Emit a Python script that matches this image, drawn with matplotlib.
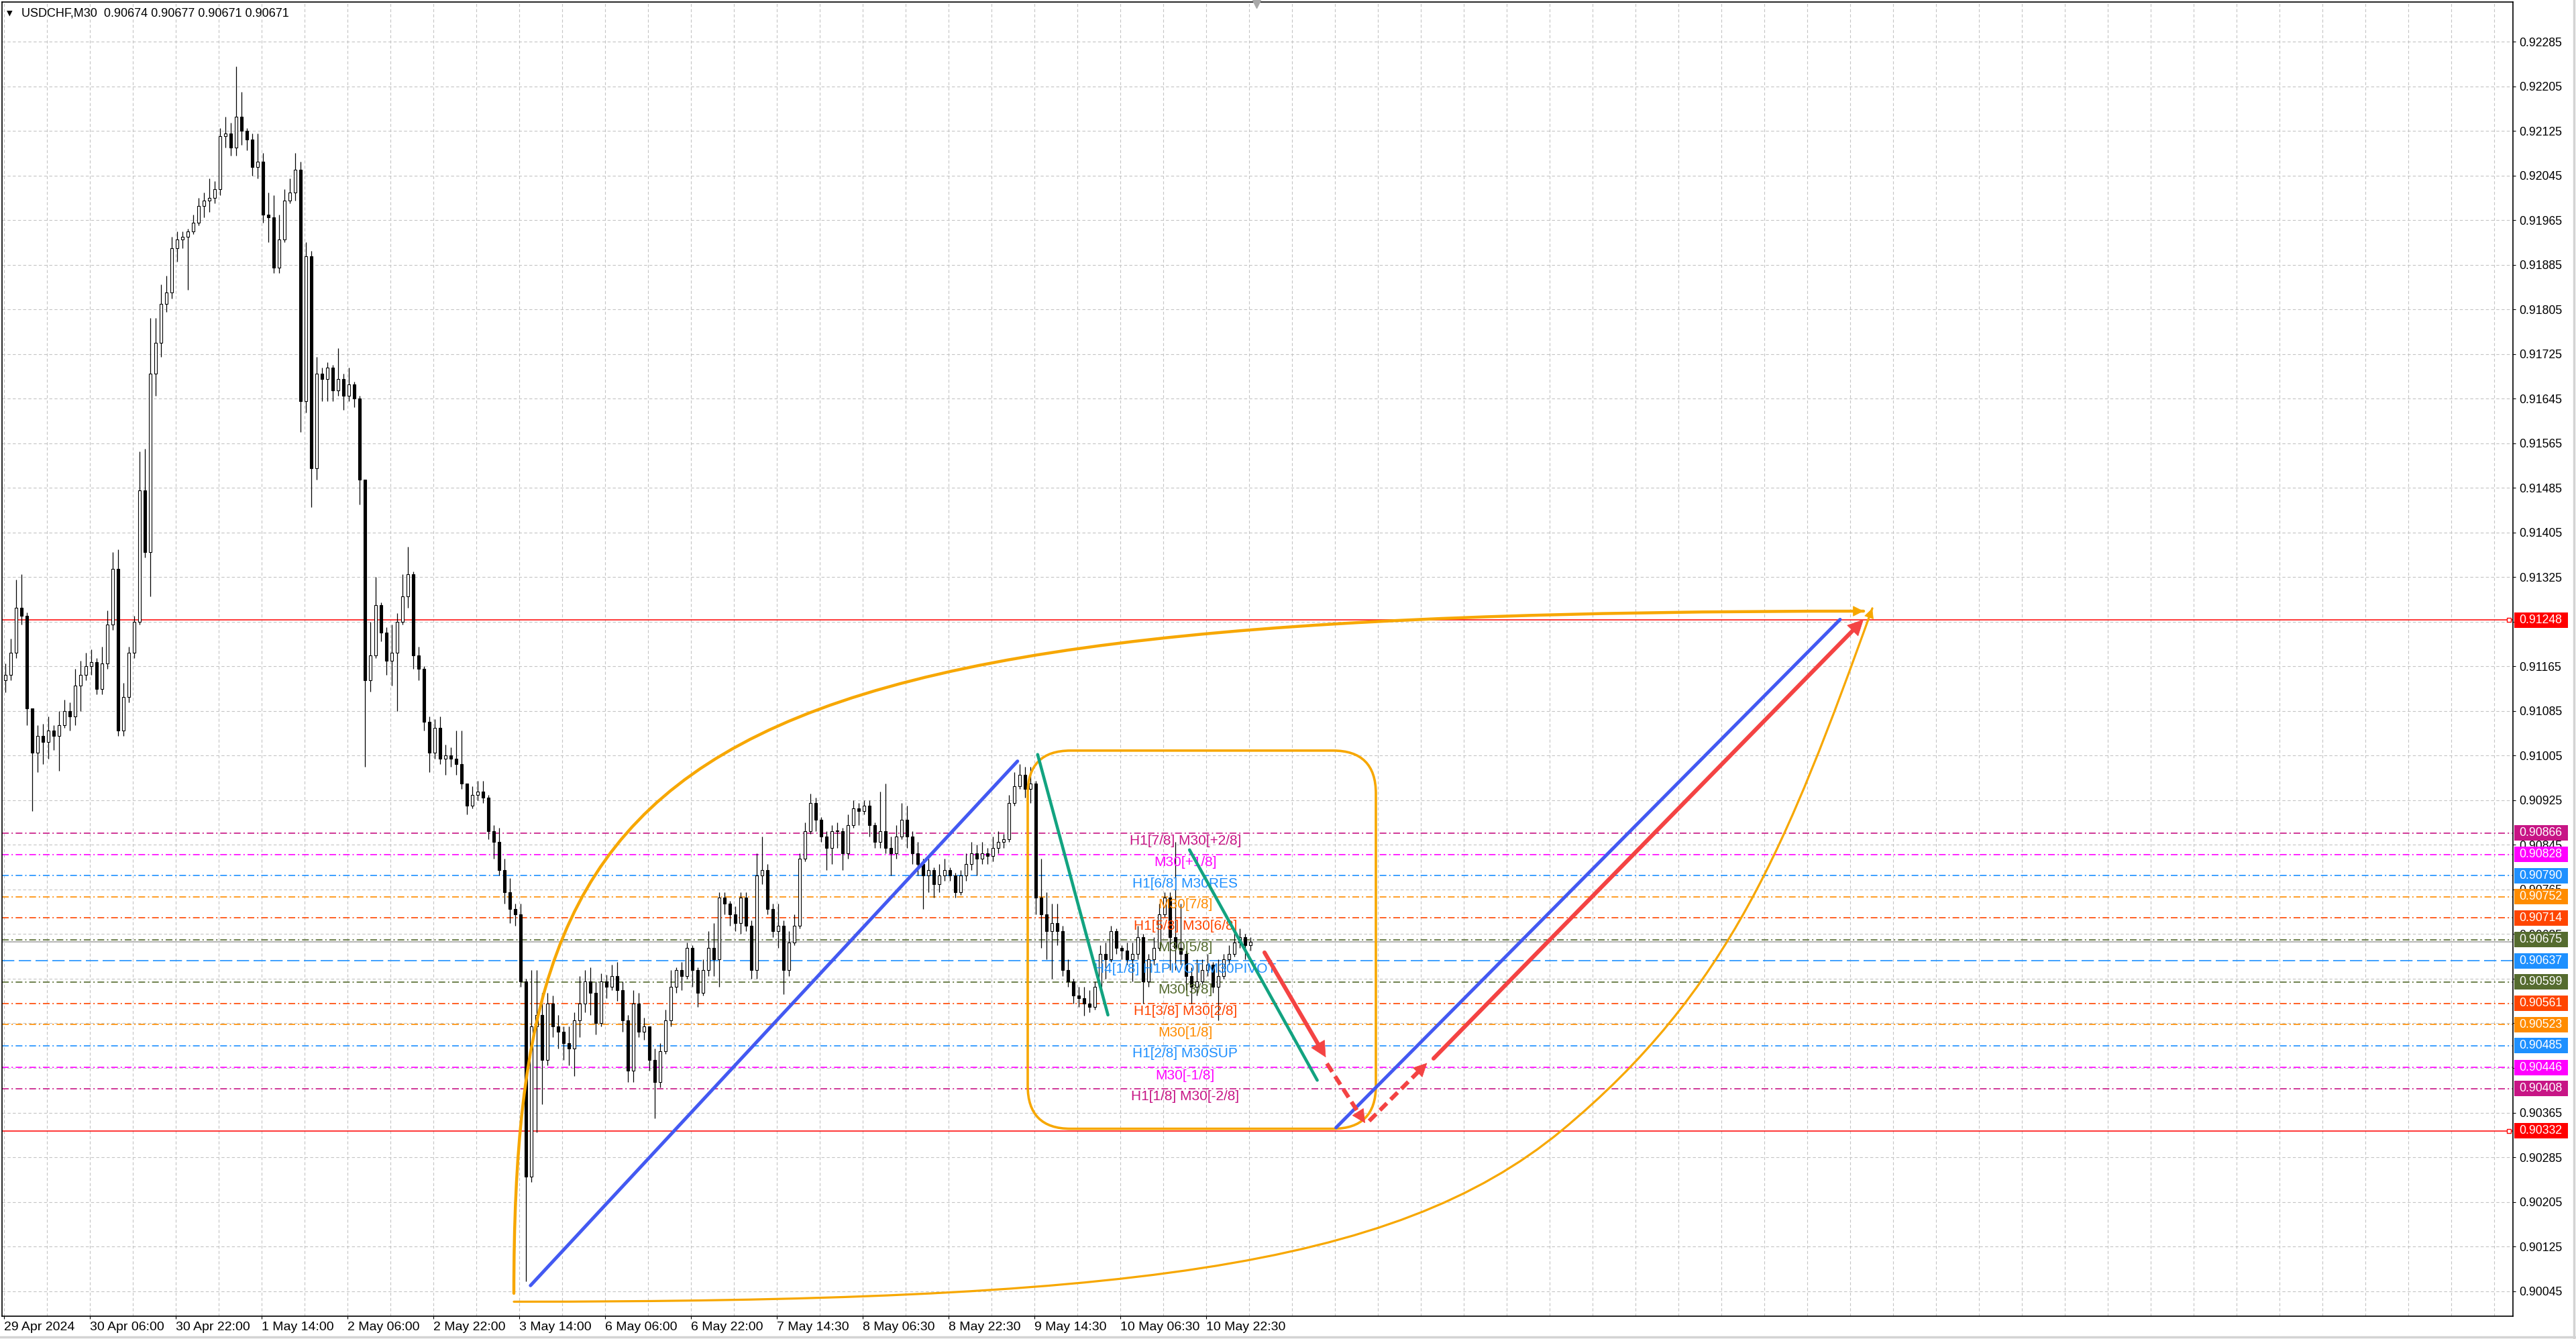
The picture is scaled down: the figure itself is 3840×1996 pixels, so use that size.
import numpy as np
import matplotlib.pyplot as plt
from matplotlib.path import Path
from matplotlib.patches import PathPatch, FancyBboxPatch, Rectangle
from matplotlib.lines import Line2D

plt.rcParams['font.family'] = ['Liberation Sans', 'DejaVu Sans']

# USDCHF M30 - one candle per two M30 slots, prices in 1e-5 above 0.90000
first_open = 1140
closes = [1150, 1190, 1270, 1255, 1090, 1010, 1040, 1030, 1050, 1040,
          1060, 1085, 1075, 1130, 1150, 1165, 1172, 1125, 1170, 1240,
          1340, 1050, 1110, 1190, 1245, 1480, 1370, 1690, 1745, 1815,
          1835, 1915, 1930, 1935, 1945, 1960, 1990, 2000, 2005, 2020,
          2115, 2120, 2095, 2150, 2125, 2110, 2060, 2070, 1975, 1970,
          1880, 1930, 2000, 2015, 2055, 1640, 1900, 1520, 1690, 1680,
          1700, 1660, 1680, 1650, 1670, 1645, 1500, 1140, 1185, 1275,
          1225, 1175, 1190, 1245, 1290, 1330, 1185, 1160, 1065, 1010,
          1055, 1000, 1005, 1000, 990, 955, 915, 935, 940, 930,
          870, 850, 800, 760, 730, 720, 600, 250, 520, 540,
          460, 560, 520, 510, 490, 480, 530, 560, 600, 580,
          525, 600, 590, 610, 585, 530, 440, 560, 510, 520,
          460, 420, 475, 530, 590, 620, 610, 660, 620, 580,
          620, 660, 640, 750, 740, 720, 705, 750, 700, 620,
          790, 800, 730, 690, 700, 620, 670, 700, 820, 870,
          920, 890, 860, 840, 870, 870, 830, 880, 910, 905,
          915, 880, 850, 870, 840, 830, 860, 890, 860, 830,
          810, 790, 800, 775, 790, 800, 790, 760, 790, 810,
          830, 820, 830, 825, 840, 850, 855, 920, 950, 970,
          945, 955, 750, 720, 690, 705, 690, 620, 600, 575,
          570, 560, 555, 590, 650, 640, 690, 660, 655, 640,
          650, 680, 600, 640, 660, 720, 750, 680, 660, 650,
          610, 590, 600, 620, 630, 590, 610, 640, 650, 670,
          680, 665, 671]
highs = [1170, 1215, 1320, 1330, 1262, 1090, 1060, 1062, 1075, 1060,
         1085, 1105, 1100, 1160, 1175, 1190, 1195, 1180, 1200, 1265,
         1370, 1375, 1135, 1200, 1255, 1550, 1555, 1790, 1790, 1850,
         1865, 1935, 1945, 1945, 1950, 1975, 2005, 2015, 2040, 2035,
         2130, 2150, 2140, 2240, 2195, 2130, 2120, 2120, 2085, 2015,
         2010, 1975, 2020, 2040, 2085, 2070, 1925, 1910, 1720, 1700,
         1710, 1705, 1735, 1690, 1700, 1675, 1650, 1500, 1245, 1325,
         1280, 1235, 1240, 1260, 1330, 1380, 1335, 1200, 1165, 1075,
         1070, 1075, 1025, 1020, 1050, 1050, 955, 950, 960, 960,
         935, 880, 875, 820, 785, 740, 740, 605, 620, 620,
         580, 580, 575, 540, 520, 520, 545, 610, 620, 625,
         600, 615, 612, 630, 635, 600, 540, 585, 580, 535,
         520, 480, 490, 550, 620, 625, 635, 670, 665, 625,
         640, 690, 705, 760, 760, 745, 735, 760, 760, 710,
         830, 860, 810, 740, 740, 710, 690, 720, 830, 885,
         937, 930, 895, 870, 880, 885, 875, 900, 925, 920,
         925, 925, 885, 940, 955, 860, 880, 920, 915, 870,
         850, 820, 820, 805, 810, 820, 805, 795, 800, 830,
         850, 845, 850, 840, 860, 870, 865, 935, 975, 990,
         985, 985, 960, 820, 760, 740, 740, 700, 640, 605,
         590, 590, 585, 600, 665, 670, 700, 695, 665, 670,
         670, 700, 685, 650, 680, 740, 760, 760, 850, 740,
         655, 625, 640, 640, 650, 635, 640, 650, 665, 690,
         695, 685, 680]
lows = [1118, 1140, 1180, 1240, 1060, 905, 975, 990, 1000, 1015,
        978, 1055, 1050, 1060, 1085, 1140, 1150, 1115, 1115, 1160,
        1230, 1040, 1040, 1100, 1180, 1240, 1360, 1290, 1650, 1720,
        1800, 1825, 1890, 1915, 1840, 1940, 1955, 1970, 1980, 1995,
        2010, 2095, 2080, 2080, 2100, 2090, 2045, 2040, 1960, 1925,
        1870, 1870, 1925, 1995, 2000, 1585, 1620, 1450, 1500, 1640,
        1640, 1640, 1650, 1625, 1640, 1630, 1455, 985, 1120, 1180,
        1210, 1150, 1130, 1085, 1240, 1270, 1160, 1140, 1050, 975,
        1000, 990, 970, 985, 970, 945, 900, 910, 925, 920,
        855, 820, 790, 740, 705, 700, 590, 62, 240, 330,
        380, 450, 500, 480, 460, 450, 430, 500, 545, 540,
        505, 520, 570, 585, 565, 510, 420, 420, 500, 495,
        440, 355, 410, 470, 520, 580, 585, 605, 590, 555,
        575, 610, 610, 590, 720, 700, 690, 685, 690, 605,
        605, 775, 720, 680, 660, 577, 610, 665, 695, 815,
        865, 870, 850, 800, 810, 840, 800, 820, 875, 880,
        900, 860, 840, 840, 830, 790, 820, 855, 840, 810,
        790, 730, 760, 750, 760, 780, 780, 750, 755, 780,
        800, 790, 810, 810, 815, 830, 840, 850, 915, 945,
        930, 920, 720, 660, 640, 605, 665, 610, 590, 560,
        555, 539, 545, 550, 585, 605, 635, 650, 640, 630,
        600, 640, 560, 590, 630, 655, 715, 620, 620, 630,
        585, 560, 575, 595, 610, 580, 530, 605, 630, 645,
        660, 640, 655]

time_labels = ["29 Apr 2024", "30 Apr 06:00", "30 Apr 22:00", "1 May 14:00",
               "2 May 06:00", "2 May 22:00", "3 May 14:00", "6 May 06:00",
               "6 May 22:00", "7 May 14:30", "8 May 06:30", "8 May 22:30",
               "9 May 14:30", "10 May 06:30", "10 May 22:30"]
price_ticks = [0.90045, 0.90125, 0.90205, 0.90285, 0.90365, 0.90445, 0.90525,
               0.90605, 0.90685, 0.90765, 0.90845, 0.90925, 0.91005, 0.91085,
               0.91165, 0.91245, 0.91325, 0.91405, 0.91485, 0.91565, 0.91645,
               0.91725, 0.91805, 0.91885, 0.91965, 0.92045, 0.92125, 0.92205,
               0.92285]

# Murrey math levels
levels = [0.90866, 0.90828, 0.90790, 0.90752, 0.90714, 0.90675, 0.90637,
          0.90599, 0.90561, 0.90523, 0.90485, 0.90446, 0.90408]
level_names = ["H1[7/8] M30[+2/8]", "M30[+1/8]", "H1[6/8] M30RES", "M30[7/8]",
               "H1[5/8] M30[6/8]", "M30[5/8]", "H4[1/8] H1PIVOT M30PIVOT",
               "M30[3/8]", "H1[3/8] M30[2/8]", "M30[1/8]", "H1[2/8] M30SUP",
               "M30[-1/8]", "H1[1/8] M30[-2/8]"]
level_colors = ["#C71585", "#FF00FF", "#1E90FF", "#FF8C00", "#FF4500", "#556B2F",
                "#1E90FF", "#556B2F", "#FF4500", "#FF8C00", "#1E90FF", "#FF00FF",
                "#C71585"]
red_lines = [0.91248, 0.90332]
bid = 0.90671

# drawing objects, anchors as (bar, price)
blue_lines = [((196.2, 0.90055), (377.7, 0.90995)),
              ((496.4, 0.90338), (684.25, 0.91249))]
green_lines = [((385.2, 0.91007), (411.4, 0.90540)),
               ((441.8, 0.90836), (489.4, 0.90423))]
red_solid = [((469.75, 0.90652), (492.6, 0.90464)),
             ((532.75, 0.90462), (693.0, 0.91249))]
red_dashed = [((493.0, 0.90453), (507.25, 0.90346)),
              ((508.75, 0.90350), (530.35, 0.90454))]
box_x = (381.5, 511.25)
box_y = (0.90336, 0.91014)
top_arc = [(190, 0.90041), (190, 0.91037), (248.5, 0.91264), (693, 0.91264)]
bottom_arc = [(190, 0.90026), (415, 0.90026), (518, 0.90084), (580.5, 0.90333),
              (643, 0.90582), (664.75, 0.90848), (696.25, 0.91269)]

ORANGE = "#F7A700"
BLUE = "#4359F2"
RED = "#F44343"
GREEN = "#12A380"

W, H = 3840, 1996
fig = plt.figure(figsize=(W / 100, H / 100), dpi=100)
ax = fig.add_axes([3 / W, 34 / H, 3743 / W, 1959 / H])
ax.set_xlim(-0.75, 935)
ax.set_ylim(0.90000, 0.92356)

# grid
for gx in np.arange(0, 935, 16):
    ax.axvline(gx, color="#c4c4c4", lw=0.8, ls=(0, (4, 3)), zorder=0)
for gy in price_ticks:
    ax.axhline(gy, color="#c4c4c4", lw=0.8, ls=(0, (4, 3)), zorder=0)

# levels
for lv, name, col in zip(levels, level_names, level_colors):
    style = (0, (11, 4)) if "PIVOT" in name else (0, (6, 2.5, 1.2, 2.5))
    ax.axhline(lv, color=col, lw=1.2, ls=style, zorder=1)
    ax.text(440.2, lv - 0.00003, name, color=col, fontsize=15, ha="center",
            va="top", zorder=6)
for rl in red_lines:
    ax.axhline(rl, color="red", lw=1.1, zorder=1)
    ax.plot(933.5, rl, marker="s", ms=4, mfc="white", mec="red", mew=1, zorder=7)
ax.axhline(bid, color="#b4b4b4", lw=1.4, zorder=1)

# candles
o = np.array([first_open] + closes[:-1]) / 1e5 + 0.9
c = np.array(closes) / 1e5 + 0.9
hi = np.array(highs) / 1e5 + 0.9
lo = np.array(lows) / 1e5 + 0.9
xs = np.arange(len(closes)) * 2 + 0.5
ax.vlines(xs, lo, hi, color="black", lw=0.9, zorder=3)
body = np.maximum(np.abs(c - o), 0.000012)
fc = np.where(c >= o, "white", "black")
ax.bar(xs, body, bottom=np.minimum(o, c), width=1.1, color=fc,
       edgecolor="black", lw=0.8, zorder=4)

# rounded box
ax.add_patch(FancyBboxPatch((box_x[0], box_y[0]), box_x[1] - box_x[0],
                            box_y[1] - box_y[0],
                            boxstyle="round,pad=0,rounding_size=16",
                            mutation_aspect=0.00077 / 16, fill=False,
                            ec=ORANGE, lw=2.6, zorder=5))

# orange arcs
arc_top = Path(top_arc, [Path.MOVETO] + [Path.CURVE4] * 3)
arc_bot = Path(bottom_arc, [Path.MOVETO] + [Path.CURVE4] * 6)
ax.add_patch(PathPatch(arc_top, fill=False, ec=ORANGE, lw=3.2, zorder=5,
                       capstyle="round"))
ax.add_patch(PathPatch(arc_bot, fill=False, ec=ORANGE, lw=2.3, zorder=5,
                       capstyle="round"))


def head(start, tip, color, size, z=8):
    # arrow head only, drawn along start -> tip direction
    p0 = ax.transData.transform(start)
    p1 = ax.transData.transform(tip)
    d = (p1 - p0) / np.hypot(*(p1 - p0))
    hl = 0.4 * size * 100 / 72
    back = ax.transData.inverted().transform(p1 - d * hl * 1.05)
    ax.annotate("", xy=tip, xytext=back,
                arrowprops=dict(arrowstyle="-|>", color=color, lw=0.6,
                                mutation_scale=size, shrinkA=0, shrinkB=0),
                zorder=z)
    return ax.transData.inverted().transform(p1 - d * hl * 0.7)


head(top_arc[2], top_arc[3], ORANGE, 26)
head(bottom_arc[5], bottom_arc[6], ORANGE, 24)

for (a, b) in blue_lines:
    ax.plot([a[0], b[0]], [a[1], b[1]], color=BLUE, lw=3.6,
            solid_capstyle="round", zorder=6)
for (a, b) in green_lines:
    ax.plot([a[0], b[0]], [a[1], b[1]], color=GREEN, lw=3.3,
            solid_capstyle="round", zorder=6)
for (a, b) in red_solid:
    end = head(a, b, RED, 40)
    ax.plot([a[0], end[0]], [a[1], end[1]], color=RED, lw=4.4,
            solid_capstyle="round", zorder=7)
for (a, b) in red_dashed:
    end = head(a, b, RED, 34)
    ax.plot([a[0], end[0]], [a[1], end[1]], color=RED, lw=4.4,
            ls=(0, (2.4, 1.3)), dash_capstyle="butt", zorder=7)

# axes styling
for sp in ax.spines.values():
    sp.set_color("black")
    sp.set_linewidth(1.2)
ax.set_xticks(np.arange(len(time_labels)) * 32)
ax.set_xticklabels(time_labels, ha="left")
ax.tick_params(axis="x", length=2.9, pad=2.9, labelsize=14, direction="out")
ax.yaxis.tick_right()
ax.set_yticks(price_ticks)
ax.set_yticklabels([f"{p:.5f}" for p in price_ticks])
ax.tick_params(axis="y", length=2.9, pad=4.1, labelsize=12.7, direction="out")

# price boxes on the right scale
ytr = ax.get_yaxis_transform()
box_prices = [red_lines[0]] + levels + [red_lines[1]]
box_colors = ["#FF0000"] + level_colors + ["#FF0000"]
for bp, bc in zip(box_prices, box_colors):
    ax.add_patch(Rectangle((1 + 1.7 / 3743, bp - 0.000138), 80.6 / 3743, 0.000276,
                           transform=ytr, fc=bc, ec="none", clip_on=False,
                           zorder=10))
    ax.text(1 + 9.7 / 3743, bp, f"{bp:.5f}", transform=ytr, color="white",
            fontsize=12.7, va="center", ha="left", zorder=11, clip_on=False)

# chart shift marker
ax.plot(466.75, 0.92352, marker="v", ms=9, color="#a8a8a8", clip_on=False,
        zorder=9)

# window frame at the right and bottom edges
fig.add_artist(Line2D([0, 1], [3 / H, 3 / H], color="#d4d4d4", lw=2.5))
fig.add_artist(Line2D([1 - 3 / W, 1 - 3 / W], [0, 1], color="#d4d4d4", lw=2.5))

fig.text(10 / W, 1 - 20 / H, "\u25bc", fontsize=8, va="center",
         family="DejaVu Sans")
fig.text(32 / W, 1 - 20 / H, "USDCHF,M30  0.90674 0.90677 0.90671 0.90671",
         fontsize=13, va="center")

fig.savefig("out.png", dpi=100, facecolor="white")
